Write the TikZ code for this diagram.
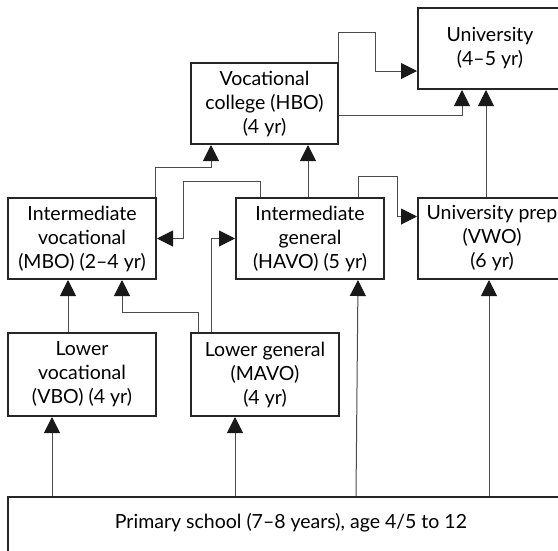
\documentclass[tikz,border=0pt]{standalone}
\usepackage{fontspec}
\setmainfont{Lato}
\usetikzlibrary{arrows.meta}
\begin{document}
\begin{tikzpicture}[x=1pt,y=-1pt,
  box/.style={draw=black!85,line width=2pt,fill=white,inner sep=0pt,align=center,
    font=\fontsize{19.5}{24}\selectfont},
  conn/.style={draw=black!70,line width=1pt,-{Triangle[width=16pt,length=16pt,color=black!90,fill=black!90]}},
  txt/.style={font=\fontsize{19.5}{24}\selectfont,inner sep=0pt}]
\clip (0,0) rectangle (558,550);
\fill[white] (0,0) rectangle (558,550);
\node[box,minimum width=144pt,minimum height=81pt] (uni) at (490,48.5) {University\\(4--5 yr)};
\node[box,minimum width=147pt,minimum height=81pt] (hbo) at (264.5,103.5) {Vocational\\college (HBO)\\(4 yr)};
\node[box,minimum width=148pt,minimum height=81pt] (mbo) at (82,238.5) {Intermediate\\vocational\\(MBO) (2--4 yr)};
\node[box,minimum width=148pt,minimum height=81pt] (havo) at (310,238.5) {Intermediate\\general\\(HAVO) (5 yr)};
\node[box,minimum width=148pt,minimum height=81pt] (vwo) at (492,238.5) {\makebox[0pt]{University prep}\\(VWO)\\(6 yr)};
\node[box,minimum width=148pt,minimum height=83pt] (vbo) at (82,374.5) {Lower\\vocational\\(VBO) (4 yr)};
\node[box,minimum width=148pt,minimum height=83pt] (mavo) at (265,374.5) {Lower general\\(MAVO)\\(4 yr)};
\node[box,minimum width=566pt,minimum height=70pt] (prim) at (291,532) {};
\node[txt] (primtext) at (291,523) {Primary school (7--8 years), age 4/5 to 12};
% connectors
\draw[conn] ([xshift=61]vbo.north west) -- ([xshift=61]mbo.south west);
\draw[conn] ([xshift=8]mavo.north west) -- ++(0,-20) -| ([xshift=115]mbo.south west);
\draw[conn] ([xshift=21]mavo.north west) |- (havo.west);
\draw[conn] ([xshift=25]havo.north west) -- ++(0,-16) -- ++(-77,0) |- (mbo.east);
\draw[conn] ([xshift=-2]mbo.north east) -- ++(0,-30) -| ([xshift=21]hbo.south west);
\draw[conn] ([xshift=-2]havo.north) -- ([xshift=-2]havo.north |- hbo.south);
\draw[conn] ([xshift=-27]havo.north east) -- ++(0,-21) -- ++(39,0) |- ([yshift=22]vwo.west);
\draw[conn] ([xshift=-1]hbo.north east) -- ++(0,-30) -- ++(37,0) |- ([yshift=-22.5]uni.west);
\draw[conn] ([yshift=-11.5]hbo.east) -| ([xshift=45]uni.south west);
\draw[conn] ([xshift=69]vwo.north west) -- ([xshift=69]uni.south west);
\draw[conn] ([xshift=45]prim.north west) -- ([xshift=45]vbo.south west);
\draw[conn] ([xshift=228]prim.north west) -- ([xshift=45]mavo.south west);
\draw[conn] ([xshift=349]prim.north west) -- ([xshift=-27]havo.south east);
\draw[conn] ([xshift=482]prim.north west) -- ([xshift=72]vwo.south west);
\end{tikzpicture}
\end{document}
